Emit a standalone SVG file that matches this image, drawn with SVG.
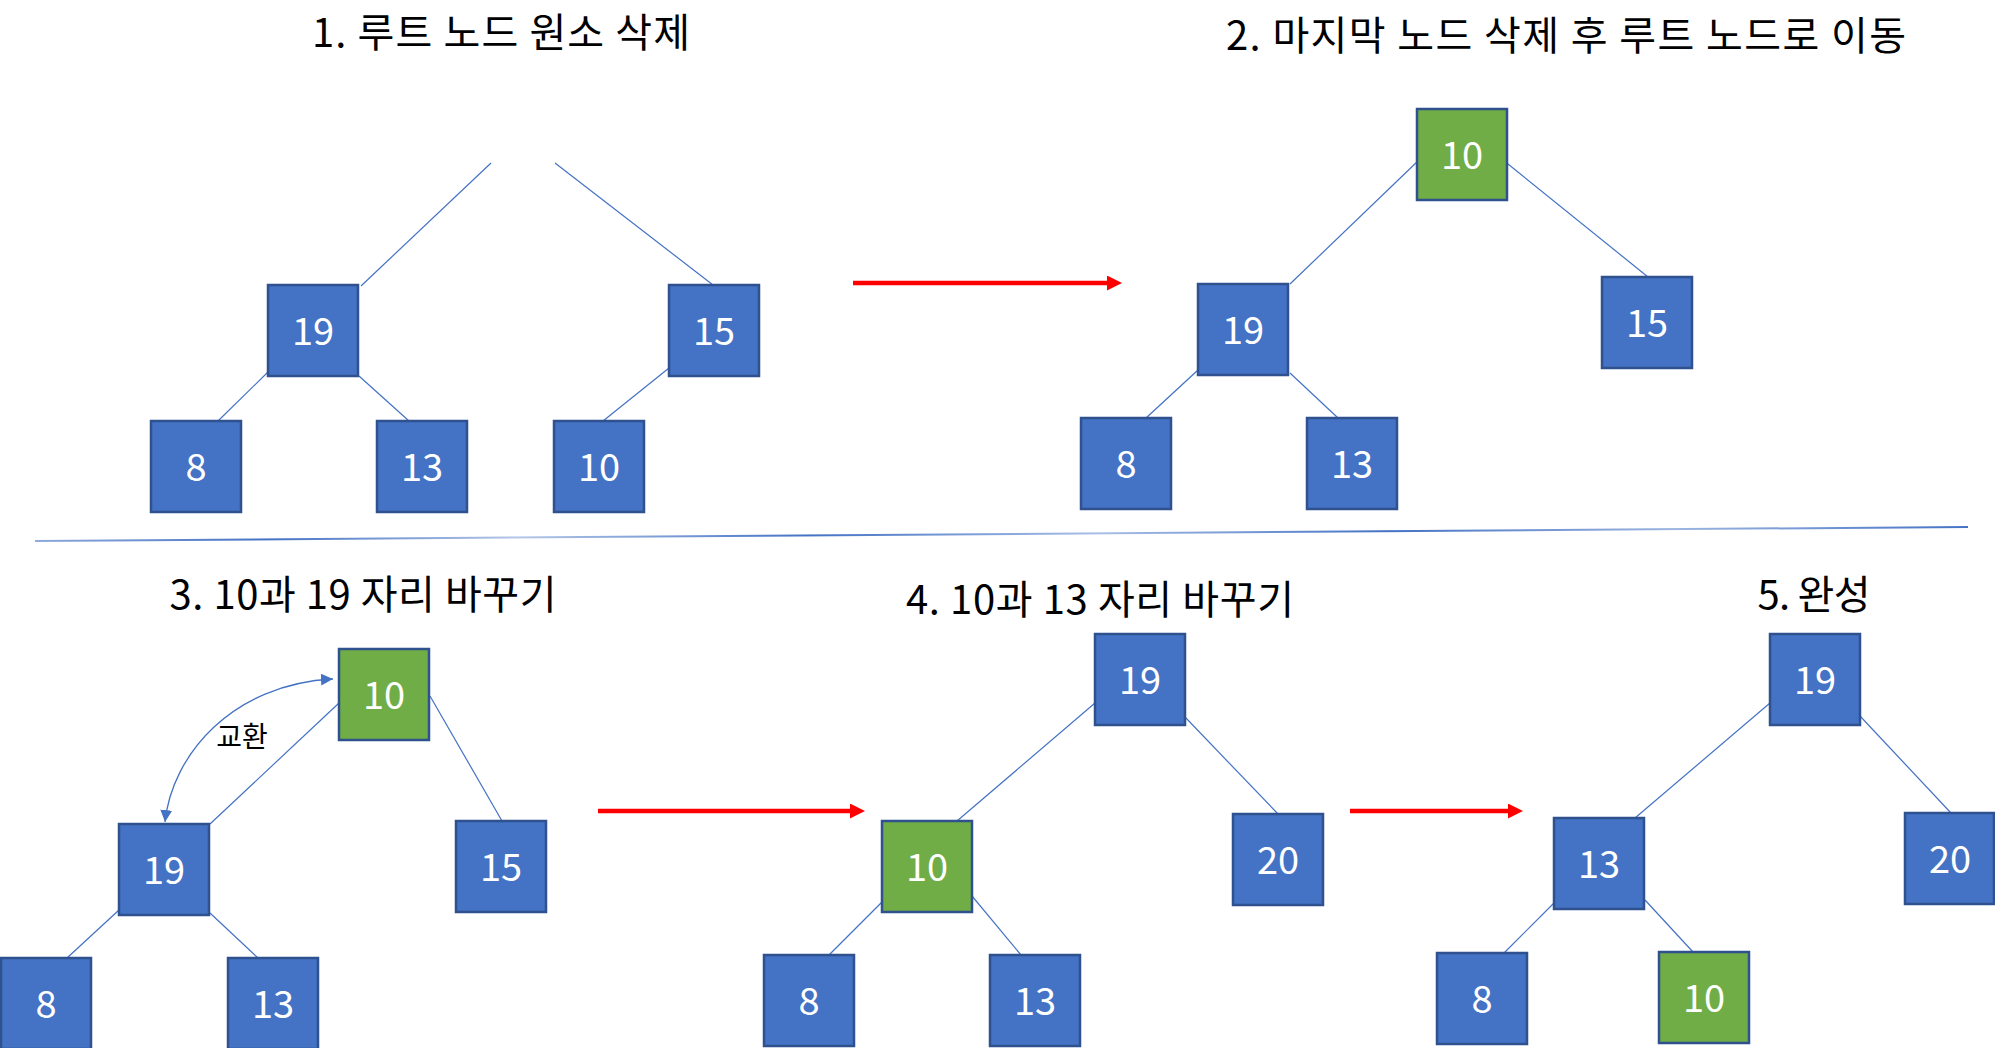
<svg xmlns="http://www.w3.org/2000/svg" width="1995" height="1048" viewBox="0 0 1995 1048">
<style>
.title{font-family:"Noto Sans CJK KR","Noto Sans",sans-serif;font-size:40px;fill:#000;text-anchor:middle}
.lbl{font-family:"Noto Sans CJK KR","Noto Sans",sans-serif;font-size:38px;fill:#fff;text-anchor:middle}
.blue{fill:#4472C4;stroke:#2F528F;stroke-width:2.5}
.green{fill:#70AD47;stroke:#2F528F;stroke-width:2.5}
.edge{stroke:#4472C4;stroke-width:1.2;fill:none}
.red{stroke:#FF0000;stroke-width:4.5;fill:none;marker-end:url(#redHead)}
.swap{stroke:#4472C4;stroke-width:1.3;fill:none;marker-start:url(#blueHead);marker-end:url(#blueHead)}
.note{font-family:"Noto Sans CJK KR","Noto Sans",sans-serif;font-size:28px;fill:#000;text-anchor:middle}
</style>
<defs>
<marker id="redHead" markerUnits="userSpaceOnUse" markerWidth="16" markerHeight="16" refX="0" refY="7.5" orient="auto" viewBox="0 0 16 16">
<path d="M0,0 L15,7.5 L0,15 Z" fill="#FF0000"/>
</marker>
<marker id="blueHead" markerUnits="userSpaceOnUse" markerWidth="14" markerHeight="14" refX="12" refY="6" orient="auto-start-reverse" viewBox="0 0 14 14">
<path d="M0,0 L12,6 L0,12 Z" fill="#4472C4"/>
</marker>
<linearGradient id="divGrad" gradientUnits="userSpaceOnUse" x1="35" y1="541" x2="1968" y2="527">
<stop offset="0" stop-color="#8FAADC"/>
<stop offset="0.12" stop-color="#4472C4"/>
<stop offset="0.25" stop-color="#B4C7E7"/>
<stop offset="0.4" stop-color="#4472C4"/>
<stop offset="0.55" stop-color="#A9BFE6"/>
<stop offset="0.7" stop-color="#4472C4"/>
<stop offset="0.85" stop-color="#9DB5E0"/>
<stop offset="1" stop-color="#4472C4"/>
</linearGradient>
</defs>
<rect width="1995" height="1048" fill="#fff"/>

<g id="titles">
<text class="title" x="501" y="47" textLength="378" lengthAdjust="spacing">1. 루트 노드 원소 삭제</text>
<text class="title" x="1566" y="50" textLength="680" lengthAdjust="spacing">2. 마지막 노드 삭제 후 루트 노드로 이동</text>
<text class="title" x="363" y="609" textLength="387" lengthAdjust="spacing">3. 10과 19 자리 바꾸기</text>
<text class="title" x="1100" y="614" textLength="388" lengthAdjust="spacing">4. 10과 13 자리 바꾸기</text>
<text class="title" x="1814" y="609" textLength="113" lengthAdjust="spacing">5. 완성</text>
</g>

<g id="divider">
<line x1="35" y1="541" x2="1968" y2="527" stroke="url(#divGrad)" stroke-width="2"/>
</g>

<g id="connectors">
<!-- panel 1 -->
<line class="edge" x1="491" y1="163" x2="361" y2="286"/>
<line class="edge" x1="555" y1="163" x2="713" y2="285"/>
<line class="edge" x1="268" y1="372" x2="218" y2="421"/>
<line class="edge" x1="359" y1="376" x2="409" y2="421"/>
<line class="edge" x1="669" y1="368" x2="603" y2="421"/>
<!-- panel 2 -->
<line class="edge" x1="1419" y1="160" x2="1290" y2="284"/>
<line class="edge" x1="1503" y1="160" x2="1648" y2="277"/>
<line class="edge" x1="1198" y1="370" x2="1146" y2="418"/>
<line class="edge" x1="1290" y1="373" x2="1338" y2="418"/>
<!-- panel 3 -->
<line class="edge" x1="339" y1="703" x2="210" y2="824"/>
<line class="edge" x1="430" y1="696" x2="502" y2="821"/>
<line class="edge" x1="119" y1="910" x2="67" y2="958"/>
<line class="edge" x1="210" y1="913" x2="258" y2="958"/>
<path class="swap" d="M165,822 C172,755 232,684 333,679"/>
<text class="note" x="242" y="747">교환</text>
<!-- panel 4 -->
<line class="edge" x1="1095" y1="703" x2="957" y2="821"/>
<line class="edge" x1="1185" y1="717" x2="1278" y2="814"/>
<line class="edge" x1="882" y1="902" x2="829" y2="955"/>
<line class="edge" x1="972" y1="896" x2="1021" y2="955"/>
<!-- panel 5 -->
<line class="edge" x1="1770" y1="703" x2="1635" y2="818"/>
<line class="edge" x1="1860" y1="716" x2="1951" y2="813"/>
<line class="edge" x1="1554" y1="903" x2="1504" y2="953"/>
<line class="edge" x1="1645" y1="900" x2="1693" y2="952"/>
<!-- step arrows -->
<line class="red" x1="853" y1="283" x2="1107" y2="283"/>
<line class="red" x1="598" y1="811" x2="850" y2="811"/>
<line class="red" x1="1350" y1="811" x2="1508" y2="811"/>
</g>

<!-- panel 1 nodes -->
<g id="p1-n19"><rect class="blue" x="268" y="285" width="90" height="91"/><text class="lbl" x="313" y="345">19</text></g>
<g id="p1-n15"><rect class="blue" x="669" y="285" width="90" height="91"/><text class="lbl" x="714" y="345">15</text></g>
<g id="p1-n8"><rect class="blue" x="151" y="421" width="90" height="91"/><text class="lbl" x="196" y="481">8</text></g>
<g id="p1-n13"><rect class="blue" x="377" y="421" width="90" height="91"/><text class="lbl" x="422" y="481">13</text></g>
<g id="p1-n10"><rect class="blue" x="554" y="421" width="90" height="91"/><text class="lbl" x="599" y="481">10</text></g>

<!-- panel 2 nodes -->
<g id="p2-n10"><rect class="green" x="1417" y="109" width="90" height="91"/><text class="lbl" x="1462" y="169">10</text></g>
<g id="p2-n19"><rect class="blue" x="1198" y="284" width="90" height="91"/><text class="lbl" x="1243" y="344">19</text></g>
<g id="p2-n15"><rect class="blue" x="1602" y="277" width="90" height="91"/><text class="lbl" x="1647" y="337">15</text></g>
<g id="p2-n8"><rect class="blue" x="1081" y="418" width="90" height="91"/><text class="lbl" x="1126" y="478">8</text></g>
<g id="p2-n13"><rect class="blue" x="1307" y="418" width="90" height="91"/><text class="lbl" x="1352" y="478">13</text></g>

<!-- panel 3 nodes -->
<g id="p3-n10"><rect class="green" x="339" y="649" width="90" height="91"/><text class="lbl" x="384" y="709">10</text></g>
<g id="p3-n19"><rect class="blue" x="119" y="824" width="90" height="91"/><text class="lbl" x="164" y="884">19</text></g>
<g id="p3-n15"><rect class="blue" x="456" y="821" width="90" height="91"/><text class="lbl" x="501" y="881">15</text></g>
<g id="p3-n8"><rect class="blue" x="1" y="958" width="90" height="91"/><text class="lbl" x="46" y="1018">8</text></g>
<g id="p3-n13"><rect class="blue" x="228" y="958" width="90" height="91"/><text class="lbl" x="273" y="1018">13</text></g>

<!-- panel 4 nodes -->
<g id="p4-n19"><rect class="blue" x="1095" y="634" width="90" height="91"/><text class="lbl" x="1140" y="694">19</text></g>
<g id="p4-n10"><rect class="green" x="882" y="821" width="90" height="91"/><text class="lbl" x="927" y="881">10</text></g>
<g id="p4-n20"><rect class="blue" x="1233" y="814" width="90" height="91"/><text class="lbl" x="1278" y="874">20</text></g>
<g id="p4-n8"><rect class="blue" x="764" y="955" width="90" height="91"/><text class="lbl" x="809" y="1015">8</text></g>
<g id="p4-n13"><rect class="blue" x="990" y="955" width="90" height="91"/><text class="lbl" x="1035" y="1015">13</text></g>

<!-- panel 5 nodes -->
<g id="p5-n19"><rect class="blue" x="1770" y="634" width="90" height="91"/><text class="lbl" x="1815" y="694">19</text></g>
<g id="p5-n13"><rect class="blue" x="1554" y="818" width="90" height="91"/><text class="lbl" x="1599" y="878">13</text></g>
<g id="p5-n20"><rect class="blue" x="1905" y="813" width="89" height="91"/><text class="lbl" x="1950" y="873">20</text></g>
<g id="p5-n8"><rect class="blue" x="1437" y="953" width="90" height="91"/><text class="lbl" x="1482" y="1013">8</text></g>
<g id="p5-n10"><rect class="green" x="1659" y="952" width="90" height="91"/><text class="lbl" x="1704" y="1012">10</text></g>
</svg>
